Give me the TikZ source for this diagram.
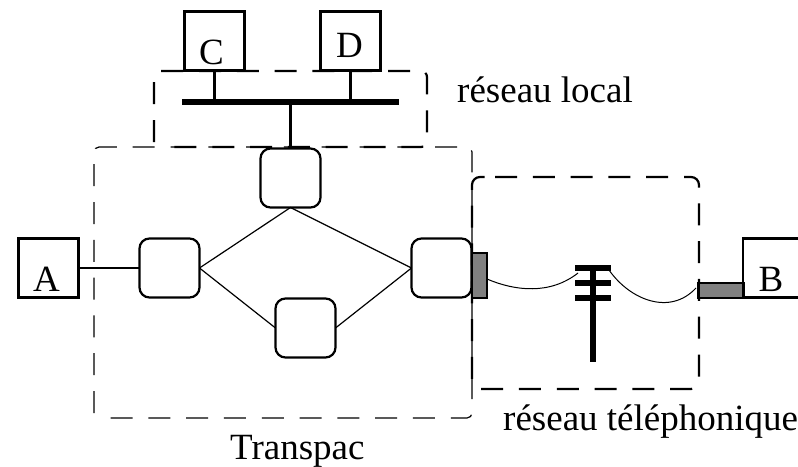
\documentclass[tikz,border=0pt]{standalone}
\usepackage{fontspec}
\setmainfont{Liberation Serif}
\definecolor{grayfill}{gray}{0.5}
\tikzset{
  box/.style={draw,line width=2.2pt,minimum width=60pt,minimum height=59pt,inner sep=0pt,outer sep=0pt},
  router/.style={box,rounded corners=10pt},
  link/.style={line width=2.2pt},
  thinlink/.style={line width=1.2pt},
  bus/.style={line width=5.5pt},
  zone/.style={dash pattern=on 22pt off 15.8pt},
  zonethin/.style={zone,line width=1.2pt,rounded corners=5pt},
  zonethick/.style={zone,line width=2.2pt},
  gbox/.style={draw,fill=grayfill,line width=2.2pt,inner sep=0pt,outer sep=0pt},
  lbl/.style={font=\fontsize{37}{40}\selectfont,inner sep=0pt},
  pole/.style={line width=5.5pt},
  wire/.style={line width=1pt}
}
\begin{document}
\begin{tikzpicture}[x=1pt,y=-1pt]
\useasboundingbox (0,0) rectangle (798,466);
% zones
\draw[zonethin] (94,413) -- (94,147) -- (472,147) -- (472,418) -- (107,418);
\draw[zonethick,rounded corners=6pt] (154,142) -- (154,71) -- (427,71) -- (427,147) -- (170,147);
\draw[zonethick,rounded corners=8pt] (495,177) -- (699,177) -- (699,389) -- (472,389) -- (472,177) -- (495,177);
% boxes
\node[box] (A) at (48.5,268) {};
\node[box] (C) at (214.5,41) {};
\node[box] (D) at (350.5,41) {};
\coordinate (Bt) at (798,238.5);
\coordinate (Bb) at (798,297.5);
\draw[link] (Bt) -- (743,238.5) -- (743,297.5) -- (Bb);
\node[lbl,anchor=base] at (46.5,291.5) {A};
\node[lbl,anchor=base] at (211.5,64.5) {C};
\node[lbl,anchor=base] at (349.5,57) {D};
\node[lbl,anchor=base] at (771,291) {B};
% routers
\node[router] (R1) at (169.5,268) {};
\node[router] (R2) at (290.5,178) {};
\node[router] (R3) at (305.5,328) {};
\node[router] (R4) at (441.5,268) {};
% bus
\coordinate (busL) at (182,102);
\coordinate (busR) at (399,102);
\draw[bus] (busL) -- (busR);
\draw[link] (C.south) -- (214.5,102);
\draw[link] (D.south) -- (350.5,102);
\draw[link] (290.5,102) -- (R2.north);
% links
\draw[link] (A.east) -- (R1.west);
\draw[thinlink] (R1.east) -- (R2.south) -- (R4.west);
\draw[thinlink] (R1.east) -- (R3.west);
\draw[thinlink] (R3.east) -- (R4.west);
% grey modems
\node[gbox,minimum width=15pt,minimum height=45pt] (M1) at (479.5,275.5) {};
\node[gbox,minimum width=45pt,minimum height=15pt] (M2) at (721,290.5) {};
% pole
\coordinate (top) at (593,265);
\coordinate (bot) at (593,361.5);
\draw[pole] (top) -- (bot);
\draw[pole] (575,268) -- (611,268);
\draw[pole] (575,283) -- (611,283);
\draw[pole] (575,298) -- (611,298);
% wires
\draw[wire] (487,279) .. controls (515,291) and (550,295) .. (578,273);
\draw[wire] (609,270) .. controls (630,300) and (670,316) .. (696,288);
% labels
\node[lbl,anchor=base west] at (457,102) {réseau local};
\node[lbl,anchor=base west] at (503,430) {réseau téléphonique};
\node[lbl,anchor=base west] at (230,459.5) {Transpac};
\end{tikzpicture}
\end{document}
